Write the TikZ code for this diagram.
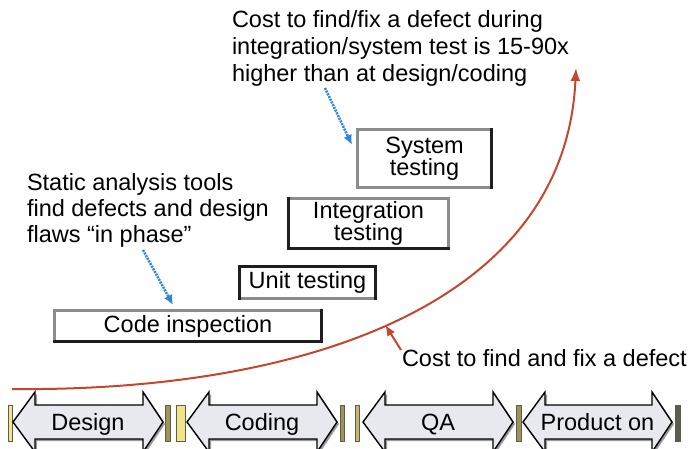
\documentclass[tikz,border=0pt]{standalone}
\usepackage{fontspec}
\setmainfont{Liberation Sans}
\usetikzlibrary{arrows.meta,calc}

\definecolor{costred}{HTML}{C4472D}
\definecolor{noteblue}{HTML}{2A86D8}
\definecolor{edgegray}{HTML}{8C8C8C}
\definecolor{edgeblack}{HTML}{1E1E1E}
\definecolor{phasefill}{HTML}{E7E9EF}
\definecolor{phaseshade}{HTML}{9A9A9A}
\definecolor{baryellow}{HTML}{F0E488}
\definecolor{barmid}{HTML}{C4B96A}
\definecolor{barolive}{HTML}{9C9458}
\definecolor{bardark}{HTML}{5E5B50}

% One lifecycle phase: a double-headed block arrow with its name
% #1 left tip x, #2 right tip x, #3 node name, #4 label
\newcommand{\phasearrow}[4]{%
  \fill[phaseshade, shift={(2,2)}]
    (#1,422) -- (#1+22,392) -- (#1+22,405) -- (#2-20,405) -- (#2-20,392)
    -- (#2,422) -- (#2-20,452) -- (#2-20,439) -- (#1+22,439) -- (#1+22,452) -- cycle;
  \draw[phaseedge]
    (#1,422) -- (#1+22,392) -- (#1+22,405) -- (#2-20,405) -- (#2-20,392)
    -- (#2,422) -- (#2-20,452) -- (#2-20,439) -- (#1+22,439) -- (#1+22,452) -- cycle;
  \node[phaselabel] (#3) at ({(#1+#2)/2},430) {#4};
}

\begin{document}
\begin{tikzpicture}[x=1pt,y=-1pt,
  every node/.style={inner sep=0pt, outer sep=0pt},
  txt/.style={font=\fontsize{23.5}{22}\selectfont},
  stagebox/.style={txt, draw=edgegray, line width=3pt, fill=white, align=center},
  darkedge/.style={draw=edgeblack, line width=3pt, line cap=rect},
  note/.style={align=left, anchor=north west},
  bluearrow/.style={draw=noteblue, line width=2.5pt, dash pattern=on 2pt off 1pt,
    -{Latex[length=10pt,width=9pt]}},
  costline/.style={draw=costred, line width=2pt},
  phaseedge/.style={draw=black, line width=1.4pt, fill=phasefill, line join=miter},
  phaselabel/.style={txt, anchor=base},
  phasebar/.style={draw=bardark, line width=0.6pt}
]
\fill[white] (0,0) rectangle (692,448);
\useasboundingbox (0,0) rectangle (692,448);

% notes
\node[note, font=\fontsize{23.5}{27}\selectfont] (fixnote) at (232,10)
  {Cost to find/fix a defect during\\integration/system test is 15-90x\\higher than at design/coding};
\node[note, font=\fontsize{23.5}{26}\selectfont] (toolnote) at (27,173)
  {Static analysis tools\\find defects and design\\flaws ``in phase''};
\node[note, txt] (costlabel) at (402,349) {Cost to find and fix a defect};

% verification activities
\node[stagebox, minimum width=134pt, minimum height=58pt] (sys) at (424.5,158.5) {System\\testing};
\node[stagebox, minimum width=160pt, minimum height=50pt] (integ) at (368.5,223.5) {Integration\\testing};
\node[stagebox, minimum width=136pt, minimum height=32pt] (unit) at (307.5,282.5) {Unit testing};
\node[stagebox, minimum width=267pt, minimum height=31pt] (code) at (188,326) {Code inspection};

% darker edges of the boxes
\draw[darkedge] (sys.north east) -- (sys.south east);
\draw[darkedge] (integ.north west) -- (integ.south west) -- (integ.south east);
\draw[darkedge] (unit.south west) -- (unit.north west) -- (unit.north east) -- (unit.south east);
\draw[darkedge] (code.north east) -- (code.south east) -- (code.south west);

% pointers from the notes
\coordinate (fixtail) at (325,88);
\coordinate (tooltail) at (143,250);
\draw[bluearrow] (fixtail) -- ($(sys.north west)+(-5.5,15.5)$);
\draw[bluearrow] (tooltail) -- ($(code.north west)+(118.5,-5.5)$);

% rising cost curve
\coordinate (curvestart) at (12,389);
\coordinate (curveend) at (576,68);
\draw[costline, -{Latex[length=13pt,width=10pt]}]
  (curvestart) .. controls (300,392) and (565,306) .. coordinate[pos=0.48] (curvehit) (curveend);
\draw[costline, -{Latex[length=11pt,width=9pt]}] ($(costlabel.north west)+(-1,1)$) -- (curvehit);

% lifecycle phases
\fill[baryellow, phasebar] (8,405) rectangle (12,441);
\fill[barolive, phasebar] (165,405) rectangle (170,441);
\fill[baryellow, phasebar] (176,405) rectangle (185,441);
\fill[barolive, phasebar] (340,405) rectangle (344,441);
\fill[barmid, phasebar] (355,405) rectangle (359,441);
\fill[barolive, phasebar] (516,405) rectangle (521,441);
\fill[bardark, phasebar] (675,405) rectangle (680,441);

\phasearrow{13}{163}{design}{Design}
\phasearrow{187}{337}{coding}{Coding}
\phasearrow{363}{513}{qa}{QA}
\phasearrow{523}{672}{production}{Product on}
\end{tikzpicture}
\end{document}
